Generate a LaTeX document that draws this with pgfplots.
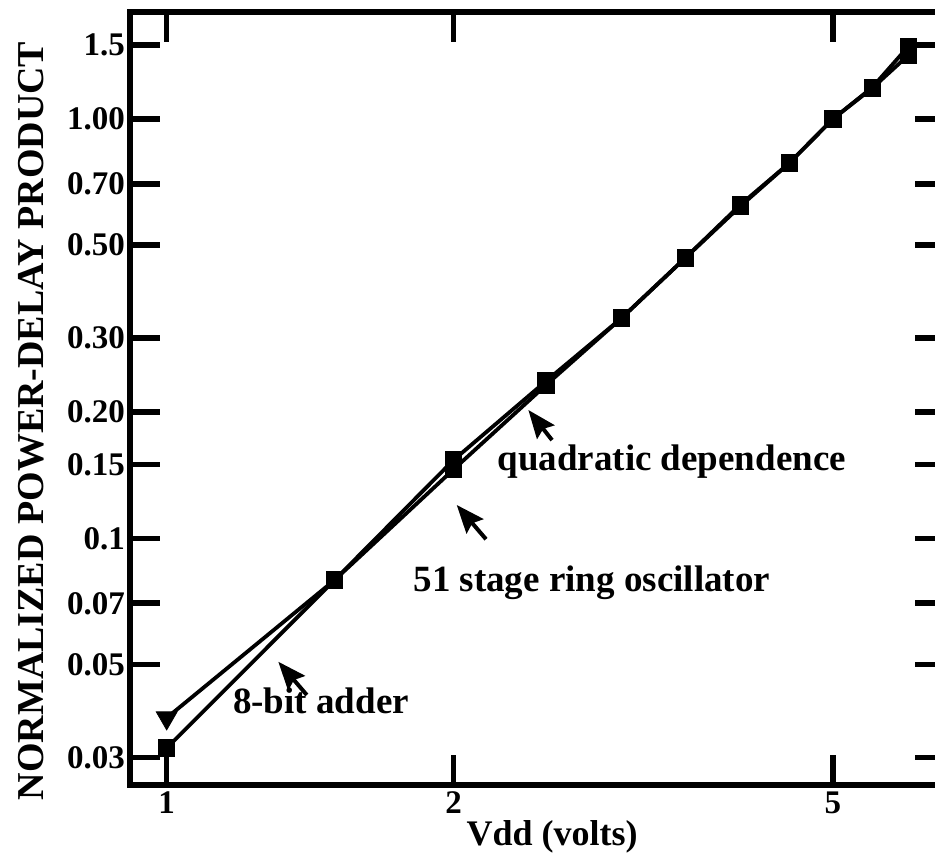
\documentclass[border=0pt]{standalone}
\usepackage{fontspec}
\setmainfont{Liberation Serif}
\usepackage{pgfplots}
\pgfplotsset{compat=1.18}
\usetikzlibrary{arrows.meta}

\begin{document}
\begin{tikzpicture}
\begin{axis}[
  scale only axis,
  width=407.5pt, height=386.5pt,
  xmode=log, ymode=log,
  xmin=0.9152, xmax=6.556,
  ymin=0.0258, ymax=1.800,
  xtick={1,2,5}, xticklabels={1,2,5},
  ytick={0.03,0.05,0.07,0.1,0.15,0.2,0.3,0.5,0.7,1,1.5},
  yticklabels={0.03,0.05,0.07,0.1,0.15,0.20,0.30,0.50,0.70,1.00,1.5},
  xminorticks=false, yminorticks=false,
  tick align=inside,
  major tick length=15pt,
  tick style={black, line width=2.8pt},
  axis line style={line width=2.8pt},
  tick label style={font=\fontsize{16.5}{18}\selectfont\bfseries},
  yticklabel style={xshift=1pt},
  label style={font=\fontsize{18}{20}\selectfont\bfseries},
  xlabel={Vdd (volts)},
  ylabel={NORMALIZED POWER-DELAY PRODUCT},
  xlabel style={at={(axis description cs:0.518,-0.067)}, anchor=center},
  ylabel style={at={(axis description cs:-0.1215,0.471)}, anchor=center, font=\fontsize{19}{21}\selectfont\bfseries},
]
\addplot[black, line width=1.9pt, mark=square*, mark size=3.4pt, mark options={solid}]
  coordinates {(1,0.0316) (1.5,0.0795) (2,0.146) (2.5,0.232) (3,0.335) (3.5,0.466) (4,0.62) (4.5,0.785) (5,1.0) (5.5,1.185) (6,1.42)};
\addplot[black, line width=1.9pt, mark=square*, mark size=3.4pt, mark options={solid}, mark indices={2,3,4,5,6,7,8,9,10,11}]
  coordinates {(1,0.0373) (1.5,0.0795) (2,0.1537) (2.5,0.237) (3,0.335) (3.5,0.466) (4,0.625) (4.5,0.785) (5,1.0) (5.5,1.19) (6,1.49)};
\addplot[only marks, black, mark=triangle*, mark size=6pt, mark options={rotate=180, fill=black}]
  coordinates {(1,0.0373)};

\draw[line width=2pt, -{Stealth[length=14pt,width=11pt,inset=2pt]}] (axis cs:1.403,0.04229) -- (axis cs:1.3095,0.05077);
\draw[line width=2pt, -{Stealth[length=14pt,width=11pt,inset=2pt]}] (axis cs:2.163,0.0995) -- (axis cs:2.015,0.1201);
\draw[line width=2pt, -{Stealth[length=14pt,width=11pt,inset=2pt]}] (axis cs:2.537,0.1715) -- (axis cs:2.396,0.2023);

\node[anchor=base west, inner sep=0pt, font=\fontsize{18.5}{20}\selectfont\bfseries] at (axis cs:2.222,0.1455) {quadratic dependence};
\node[anchor=base west, inner sep=0pt, font=\fontsize{18.5}{20}\selectfont\bfseries] at (axis cs:1.814,0.0748) {51 stage ring oscillator};
\node[anchor=base west, inner sep=0pt, font=\fontsize{18.5}{20}\selectfont\bfseries] at (axis cs:1.173,0.03825) {8-bit adder};

\coordinate (SW) at (rel axis cs:0,0);
\coordinate (NE) at (rel axis cs:1,1);
\end{axis}
\pgfresetboundingbox
\useasboundingbox ([xshift=-65pt,yshift=-38.5pt]SW) rectangle ([xshift=-5pt,yshift=6pt]NE);
\end{tikzpicture}
\end{document}
